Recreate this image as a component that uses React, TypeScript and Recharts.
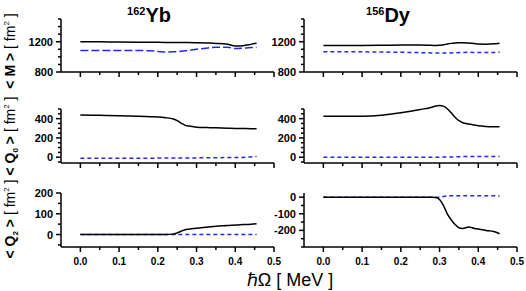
import { LineChart, Line, XAxis, YAxis } from 'recharts'

// rotational frequency grids (MeV)
const ybOmega = [0, 0.05, 0.1, 0.15, 0.18, 0.2, 0.22, 0.24, 0.25, 0.26, 0.27, 0.28, 0.3, 0.33, 0.35, 0.38, 0.4, 0.42, 0.44, 0.455]
const dyOmega = [0, 0.05, 0.1, 0.15, 0.2, 0.25, 0.28, 0.29, 0.3, 0.31, 0.32, 0.33, 0.34, 0.35, 0.36, 0.375, 0.39, 0.4, 0.42, 0.44, 0.455]

// 162Yb
const ybM = [1200, 1198, 1196, 1194, 1193, 1192, 1191, 1190, 1190, 1189, 1188, 1188, 1186, 1182, 1178, 1166, 1144, 1148, 1165, 1180]
const ybMDash = [1085, 1085, 1085, 1084, 1080, 1072, 1063, 1066, 1070, 1074, 1080, 1086, 1100, 1118, 1128, 1128, 1110, 1115, 1122, 1124]
const ybQ0 = [438, 435, 431, 425, 420, 417, 410, 396, 379, 354, 333, 323, 312, 307, 305, 301, 298, 297, 296, 295]
const ybQ0Dash = [-10, -10, -10, -10, -10, -9, -9, -9, -9, -9, -8, -8, -7, -6, -5, -4, -4, -2, 3, 8]
const ybQ2 = [0, 0, 0, 0, 0, 0, 0, 2, 8, 16, 23, 26, 30, 36, 40, 43, 46, 48, 50, 52]
const ybQ2Dash = [0, 0, 0, 0, 0, 0, 0, 0, 0, 0, 0, 0, 0, 0, 0, 0, 0, 0, 0, 0]

// 156Dy
const dyM = [1150, 1150, 1150, 1152, 1155, 1157, 1152, 1150, 1152, 1160, 1170, 1178, 1183, 1185, 1186, 1184, 1175, 1170, 1168, 1172, 1180]
const dyMDash = [1066, 1066, 1066, 1064, 1060, 1056, 1052, 1050, 1050, 1050, 1050, 1052, 1054, 1056, 1058, 1060, 1058, 1056, 1056, 1058, 1062]
const dyQ0 = [424, 424, 425, 435, 460, 494, 519, 530, 536, 530, 502, 460, 414, 379, 358, 344, 333, 326, 319, 316, 315]
const dyQ0Dash = [0, 0, 0, 0, 0, 0, 0, 0, 0, 1, 2, 3, 4, 5, 6, 7, 8, 8, 8, 8, 8]
const dyQ2 = [0, 0, 0, 0, 0, 0, 0, -2, -14, -50, -100, -136, -164, -184, -188, -180, -188, -192, -200, -207, -220]
const dyQ2Dash = [0, 0, 0, 0, 0, 0, 0, 0, 0, 4, 7, 8, 8, 8, 8, 8, 8, 8, 8, 8, 6]

const xTicks = [0, 0.05, 0.1, 0.15, 0.2, 0.25, 0.3, 0.35, 0.4, 0.45, 0.5]
const mTicks = [800, 900, 1000, 1100, 1200, 1300, 1400, 1500]
const mLabels = [800, 1200]
const q0Ticks = [-50, 0, 50, 100, 150, 200, 250, 300, 350, 400, 450, 500]
const q0Labels = [0, 200, 400]
const ybQ2Ticks = [-50, 0, 50, 100, 150, 200]
const ybQ2Labels = [0, 100, 200]
const dyQ2Ticks = [-300, -250, -200, -150, -100, -50, 0]
const dyQ2Labels = [0, -100, -200]

const W = 526
const H = 291
const AX_H = 20
const AX_W = 40
const FONT = 'Arial, "Liberation Sans", sans-serif'
const BLUE = '#1f2cf0'

function rows(omega: number[], solid: number[], dashed: number[]) {
  return omega.map((w, i) => ({ w, solid: solid[i], dashed: dashed[i] }))
}

interface Props {
  box: [number, number, number, number] // left, top, right, bottom of plot area
  data: { w: number; solid: number; dashed: number }[]
  yDomain: [number, number]
  yTicks: number[]
  yLabels: number[]
  xLabels?: boolean
  dash?: string
}

function Panel({ box, data, yDomain, yTicks, yLabels, xLabels, dash = '4 3' }: Props) {
  const [l, t, r, b] = box
  const XTick = (p: any) => {
    const v = p.payload.value as number
    const major = Math.round(v * 100) % 10 === 0
    return (
      <g>
        <line x1={p.x} x2={p.x} y1={p.y} y2={p.y + (major ? 5 : 3)} stroke="#000" strokeWidth={1.5} />
        {xLabels && major && (
          <text x={p.x} y={p.y + 18} textAnchor="middle" fontSize={10} fontWeight="bold" fontFamily={FONT} fill="#000">
            {v.toFixed(1)}
          </text>
        )}
      </g>
    )
  }
  const YTick = (p: any) => {
    const v = p.payload.value as number
    const major = yLabels.includes(v)
    return (
      <g>
        <line x1={p.x} x2={p.x - (major ? 5 : 3)} y1={p.y} y2={p.y} stroke="#000" strokeWidth={1.5} />
        {major && (
          <text x={p.x - 8} y={p.y + 4} textAnchor="end" fontSize={11} fontWeight="bold" fontFamily={FONT} fill="#000">
            {v}
          </text>
        )}
      </g>
    )
  }
  return (
    <div style={{ position: 'absolute', left: 0, top: 0 }}>
      <LineChart width={W} height={H} data={data} margin={{ top: t, left: l - AX_W, right: W - r, bottom: H - b - AX_H }}>
        <XAxis
          dataKey="w"
          type="number"
          domain={[-0.05, 0.5]}
          ticks={xTicks}
          allowDataOverflow
          height={AX_H}
          tickSize={0}
          tickMargin={0}
          tick={XTick}
          axisLine={{ stroke: '#000', strokeWidth: 1.5 }}
          interval={0}
        />
        <YAxis
          type="number"
          domain={yDomain}
          ticks={yTicks}
          allowDataOverflow
          width={AX_W}
          tickSize={0}
          tickMargin={0}
          tick={YTick}
          axisLine={{ stroke: '#000', strokeWidth: 1.5 }}
          interval={0}
        />
        <Line type="monotone" dataKey="dashed" stroke={BLUE} strokeWidth={1.5} strokeDasharray={dash} dot={false} isAnimationActive={false} />
        <Line type="monotone" dataKey="solid" stroke="#000" strokeWidth={1.5} dot={false} isAnimationActive={false} />
      </LineChart>
    </div>
  )
}

function YLabel({ cx, cy, sub }: { cx: number; cy: number; sub?: string }) {
  return (
    <text transform={`rotate(-90, ${cx}, ${cy})`} x={cx} y={cy} textAnchor="middle" fontSize={14} fontFamily={FONT} fill="#000">
      <tspan fontWeight="bold">{sub ? '< Q' : '< M >'}</tspan>
      {sub && (
        <tspan fontWeight="bold" fontSize={8} dy={3}>
          {sub}
        </tspan>
      )}
      {sub && (
        <tspan fontWeight="bold" dy={-3}>
          {' >'}
        </tspan>
      )}
      <tspan>{' [ fm'}</tspan>
      <tspan fontSize={8} dy={-6}>
        2
      </tspan>
      <tspan dy={6}>{' ]'}</tspan>
    </text>
  )
}

export default function App() {
  const L: [number, number] = [61, 274]
  const R: [number, number] = [304, 517]
  return (
    <div style={{ position: 'absolute', left: 0, top: 0, width: W, height: H, background: '#fff' }}>
      <style>{'.recharts-wrapper [clip-path] { clip-path: none !important; }'}</style>
      <Panel box={[L[0], 19, L[1], 72]} data={rows(ybOmega, ybM, ybMDash)} yDomain={[800, 1500]} yTicks={mTicks} yLabels={mLabels} dash="8 3" />
      <Panel box={[L[0], 109, L[1], 163]} data={rows(ybOmega, ybQ0, ybQ0Dash)} yDomain={[-60, 500]} yTicks={q0Ticks} yLabels={q0Labels} />
      <Panel box={[L[0], 193, L[1], 247]} data={rows(ybOmega, ybQ2, ybQ2Dash)} yDomain={[-60, 200]} yTicks={ybQ2Ticks} yLabels={ybQ2Labels} xLabels />
      <Panel box={[R[0], 19, R[1], 72]} data={rows(dyOmega, dyM, dyMDash)} yDomain={[800, 1500]} yTicks={mTicks} yLabels={mLabels} />
      <Panel box={[R[0], 109, R[1], 163]} data={rows(dyOmega, dyQ0, dyQ0Dash)} yDomain={[-60, 500]} yTicks={q0Ticks} yLabels={q0Labels} />
      <Panel box={[R[0], 193, R[1], 247]} data={rows(dyOmega, dyQ2, dyQ2Dash)} yDomain={[-300, 25]} yTicks={dyQ2Ticks} yLabels={dyQ2Labels} xLabels />
      <svg width={W} height={H} style={{ position: 'absolute', left: 0, top: 0 }}>
        <text x={149} y={22} textAnchor="middle" fontFamily={FONT} fontWeight="bold" fill="#000">
          <tspan fontSize={11} dy={-7}>162</tspan>
          <tspan fontSize={20} dy={7}>Yb</tspan>
        </text>
        <text x={388} y={22} textAnchor="middle" fontFamily={FONT} fontWeight="bold" fill="#000">
          <tspan fontSize={11} dy={-7}>156</tspan>
          <tspan fontSize={20} dy={7}>Dy</tspan>
        </text>
        <YLabel cx={15} cy={51} />
        <YLabel cx={15} cy={136} sub="0" />
        <YLabel cx={15} cy={219} sub="2" />
        <text x={290} y={286} textAnchor="middle" fontSize={18} fontFamily={FONT} fill="#000">
          ℏΩ [ MeV ]
        </text>
      </svg>
    </div>
  )
}
